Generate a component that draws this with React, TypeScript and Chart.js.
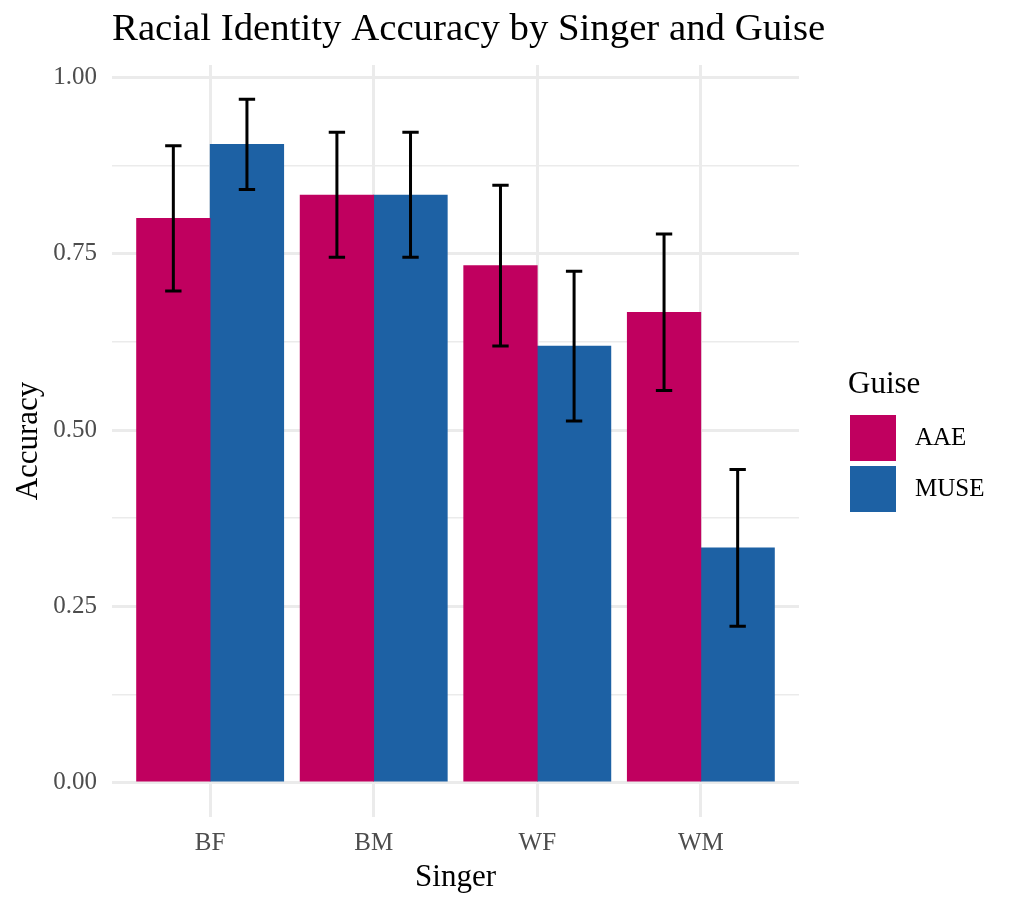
import React, { useEffect, useRef } from "react";
import { Chart, registerables } from "chart.js";

Chart.register(...registerables);

const chartTitle = "Racial Identity Accuracy by Singer and Guise";
const singers = ["BF", "BM", "WF", "WM"];
const aaeAccuracy = [0.8, 0.833, 0.733, 0.667];
const museAccuracy = [0.905, 0.833, 0.619, 0.333];
const aaeLower = [0.697, 0.745, 0.619, 0.556];
const aaeUpper = [0.903, 0.922, 0.847, 0.778];
const museLower = [0.841, 0.745, 0.513, 0.222];
const museUpper = [0.969, 0.922, 0.725, 0.444];
const yTickValues = [0, 0.125, 0.25, 0.375, 0.5, 0.625, 0.75, 0.875, 1];

const FAMILY = "'Liberation Serif', 'Times New Roman', serif";
const DODGE = 0.225;
const isMajor = (v: number) => Math.abs(v * 4 - Math.round(v * 4)) < 1e-6;

const errorBarPlugin = {
  id: "errorBars",
  afterDatasetsDraw(chart: any) {
    const { ctx } = chart;
    const x = chart.scales.x;
    const y = chart.scales.y;
    ctx.save();
    ctx.strokeStyle = "#000000";
    ctx.lineWidth = 3;
    ctx.lineCap = "butt";
    chart.data.datasets.forEach((ds: any, di: number) => {
      const meta = chart.getDatasetMeta(di);
      if (meta.hidden) return;
      ds.data.forEach((pt: any, j: number) => {
        const cx = x.getPixelForValue(pt.x);
        const half = x.getPixelForValue(pt.x + 0.05) - cx;
        const yLo = y.getPixelForValue(ds.errLower[j]);
        const yHi = y.getPixelForValue(ds.errUpper[j]);
        ctx.beginPath();
        ctx.moveTo(cx, yLo);
        ctx.lineTo(cx, yHi);
        ctx.moveTo(cx - half, yLo);
        ctx.lineTo(cx + half, yLo);
        ctx.moveTo(cx - half, yHi);
        ctx.lineTo(cx + half, yHi);
        ctx.stroke();
      });
    });
    ctx.restore();
  },
};

const plotTitlePlugin = {
  id: "plotTitle",
  afterDraw(chart: any) {
    const { ctx, chartArea } = chart;
    ctx.save();
    ctx.fillStyle = "#000000";
    ctx.font = `38.8px ${FAMILY}`;
    ctx.textAlign = "left";
    ctx.textBaseline = "alphabetic";
    ctx.fillText(chartTitle, chartArea.left, chartArea.top - 25);
    ctx.restore();
  },
};

const guiseLegendPlugin = {
  id: "guiseLegend",
  afterDraw(chart: any) {
    const { ctx, chartArea } = chart;
    const cy = (chartArea.top + chartArea.bottom) / 2;
    const left = chartArea.right + 49;
    ctx.save();
    ctx.fillStyle = "#000000";
    ctx.font = `31px ${FAMILY}`;
    ctx.textAlign = "left";
    ctx.textBaseline = "alphabetic";
    ctx.fillText("Guise", left, cy - 48);
    chart.data.datasets.forEach((ds: any, i: number) => {
      const top = cy - 26 + 51 * i;
      ctx.fillStyle = ds.backgroundColor;
      ctx.fillRect(left + 2, top, 46, 46);
      ctx.fillStyle = "#000000";
      ctx.font = `25px ${FAMILY}`;
      ctx.textBaseline = "middle";
      ctx.fillText(ds.label, left + 67, top + 23);
    });
    ctx.restore();
  },
};

export default function App() {
  const ref = useRef<HTMLCanvasElement>(null);

  useEffect(() => {
    if (!ref.current) return;
    const chart = new Chart(ref.current, {
      type: "bar",
      data: {
        datasets: [
          {
            label: "AAE",
            data: singers.map((_, i) => ({ x: i + 1 - DODGE, y: aaeAccuracy[i] })),
            backgroundColor: "#C0005F",
            errLower: aaeLower,
            errUpper: aaeUpper,
          } as any,
          {
            label: "MUSE",
            data: singers.map((_, i) => ({ x: i + 1 + DODGE, y: museAccuracy[i] })),
            backgroundColor: "#1D61A4",
            errLower: museLower,
            errUpper: museUpper,
          } as any,
        ],
      },
      options: {
        responsive: false,
        animation: false,
        layout: { padding: { left: 0, right: 219, top: 65, bottom: 0 } },
        datasets: {
          bar: {
            grouped: false,
            categoryPercentage: 1,
            barPercentage: 1,
            borderWidth: 0,
          },
        },
        plugins: {
          legend: { display: false },
          tooltip: { enabled: false },
          title: { display: false },
        },
        scales: {
          x: {
            type: "linear",
            min: 0.4,
            max: 4.6,
            offset: false,
            afterBuildTicks: (s: any) => {
              s.ticks = singers.map((_, i) => ({ value: i + 1 }));
            },
            afterFit: (s: any) => {
              s.height = 90;
            },
            ticks: {
              callback: (v: any) => singers[Math.round(Number(v)) - 1] ?? "",
              color: "#4D4D4D",
              font: { family: FAMILY, size: 25 },
              padding: 11,
              autoSkip: false,
              maxRotation: 0,
            },
            grid: { color: "#EBEBEB", lineWidth: 3, drawTicks: false, offset: false },
            border: { display: false },
            title: {
              display: true,
              text: "Singer",
              color: "#000000",
              font: { family: FAMILY, size: 31 },
              padding: { top: 0, bottom: 11 },
            },
          },
          y: {
            type: "linear",
            min: -0.0485,
            max: 1.0175,
            afterBuildTicks: (s: any) => {
              s.ticks = yTickValues.map((v) => ({ value: v }));
            },
            afterFit: (s: any) => {
              s.width = 112;
            },
            ticks: {
              callback: (v: any) => (isMajor(Number(v)) ? Number(v).toFixed(2) : ""),
              color: "#4D4D4D",
              font: { family: FAMILY, size: 25 },
              padding: 15,
              autoSkip: false,
            },
            grid: {
              color: "#EBEBEB",
              lineWidth: (c: any) => (c.tick && isMajor(c.tick.value) ? 3 : 1.5),
              drawTicks: false,
            },
            border: { display: false },
            title: {
              display: true,
              text: "Accuracy",
              color: "#000000",
              font: { family: FAMILY, size: 31 },
              padding: { top: 10, bottom: 0 },
            },
          },
        },
      } as any,
      plugins: [errorBarPlugin, plotTitlePlugin, guiseLegendPlugin],
    });
    return () => chart.destroy();
  }, []);

  return (
    <div
      style={{
        position: "fixed",
        left: 0,
        top: 0,
        width: 1018,
        height: 907,
        background: "#ffffff",
      }}
    >
      <canvas
        ref={ref}
        width={1018}
        height={907}
        style={{ display: "block", width: 1018, height: 907 }}
      />
    </div>
  );
}
